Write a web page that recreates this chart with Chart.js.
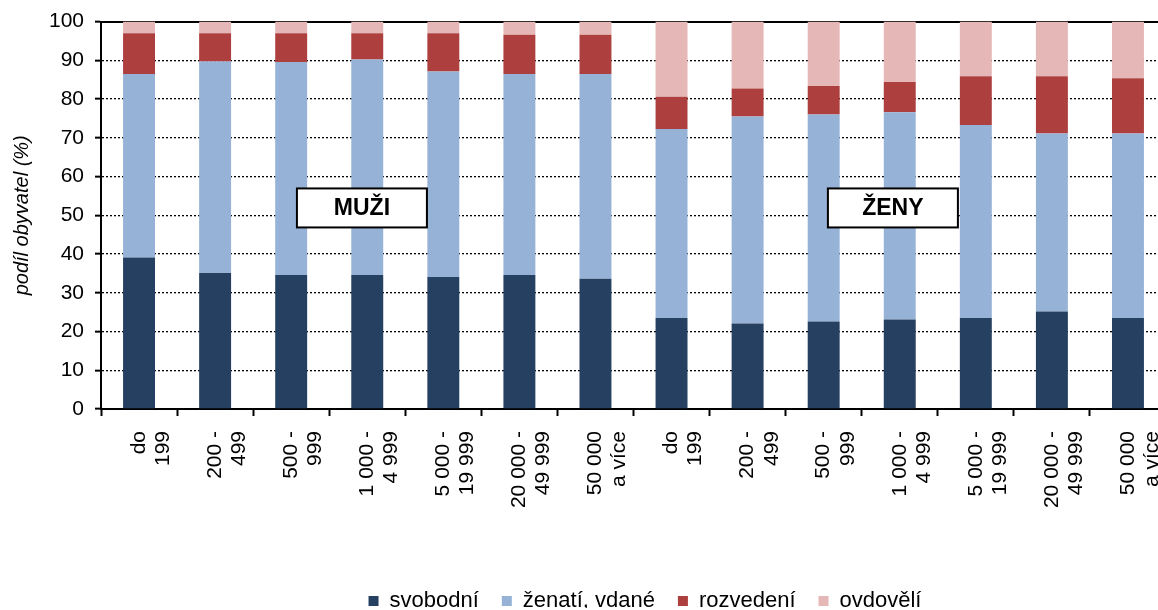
<!DOCTYPE html>
<html>
<head>
<meta charset="utf-8">
<script src="https://cdn.jsdelivr.net/npm/chart.js@4"></script>
<style>
  html, body { margin: 0; padding: 0; background: #fff; overflow: hidden; }
  #wrap { position: relative; width: 1290px; height: 610px; margin-top: -2px; }
</style>
</head>
<body>
<div id="wrap"><canvas id="c"></canvas></div>
<script>
// ---- data ----
const categories = [
  ["do", "199"], ["200 -", "499"], ["500 -", "999"], ["1 000 -", "4 999"],
  ["5 000 -", "19 999"], ["20 000 -", "49 999"], ["50 000", "a více"],
  ["do", "199"], ["200 -", "499"], ["500 -", "999"], ["1 000 -", "4 999"],
  ["5 000 -", "19 999"], ["20 000 -", "49 999"], ["50 000", "a více"]
];
const svobodni  = [39.1, 35.1, 34.6, 34.6, 34.1, 34.6, 33.6, 23.5, 22.1, 22.6, 23.1, 23.5, 25.2, 23.5];
const zenati    = [47.4, 54.6, 55.0, 55.6, 53.0, 51.9, 52.9, 48.8, 53.4, 53.4, 53.5, 49.8, 45.9, 47.6];
const rozvedeni = [10.5,  7.3,  7.4,  6.8,  9.9, 10.1, 10.1,  8.3,  7.2,  7.4,  7.8, 12.6, 14.8, 14.3];
const ovdoveli  = [ 3.0,  3.0,  3.0,  3.0,  3.0,  3.4,  3.4, 19.4, 17.3, 16.6, 15.6, 14.1, 14.1, 14.6];
const seriesNames = ["svobodní", "ženatí, vdané", "rozvedení", "ovdovělí"];
const groupLabels = ["MUŽI", "ŽENY"];
const groupAnchors = [2.93, 9.91];   // category index where each group label sits
const yTickStep = 10;

const FONT = "'Liberation Sans', Arial, sans-serif";

const boxPlugin = {
  id: 'groupBoxes',
  afterDatasetsDraw(chart) {
    const ctx = chart.ctx, xs = chart.scales.x, ys = chart.scales.y;
    ctx.save();
    groupLabels.forEach((t, i) => {
      const cx = xs.getPixelForValue(groupAnchors[i]);
      const cy = ys.getPixelForValue(51.9);
      const w = 130, h = 39;
      ctx.fillStyle = '#fff';
      ctx.fillRect(cx - w / 2, cy - h / 2, w, h);
      ctx.lineWidth = 2;
      ctx.strokeStyle = '#000';
      ctx.strokeRect(cx - w / 2, cy - h / 2, w, h);
      ctx.fillStyle = '#000';
      ctx.font = "bold 23px " + FONT;
      ctx.textAlign = 'center';
      ctx.textBaseline = 'middle';
      ctx.fillText(t, cx, cy + 1);
    });
    ctx.restore();
  }
};

const mk = (label, data, color) => ({
  label, data, backgroundColor: color, borderWidth: 0,
  barPercentage: 0.42, categoryPercentage: 1.0
});

new Chart(document.getElementById('c'), {
  type: 'bar',
  data: {
    labels: categories,
    datasets: [
      mk(seriesNames[0], svobodni, '#264061'),
      mk(seriesNames[1], zenati, '#96B3D7'),
      mk(seriesNames[2], rozvedeni, '#AD403F'),
      mk(seriesNames[3], ovdoveli, '#E6B7B7')
    ]
  },
  options: {
    responsive: true,
    maintainAspectRatio: false,
    animation: false,
    layout: { padding: { top: 18, right: 0, left: 0, bottom: -14 } },
    plugins: {
      tooltip: { enabled: false },
      legend: {
        position: 'bottom',
        labels: {
          boxWidth: 10, boxHeight: 10, padding: 23, color: '#000',
          font: { family: FONT, size: 22 }
        }
      }
    },
    scales: {
      x: {
        stacked: true,
        grid: { display: true, drawOnChartArea: false, drawTicks: true, offset: true,
                tickLength: 7, tickWidth: 2, tickColor: '#000', color: '#000' },
        border: { display: true, color: '#000', width: 2 },
        ticks: {
          autoSkip: false, minRotation: 90, maxRotation: 90, padding: 15, color: '#000',
          font: { family: FONT, size: 21, lineHeight: 1.15 }
        },
        afterFit(scale) { scale.height = 158; }
      },
      x2: {
        position: 'top',
        grid: { display: false, drawTicks: false },
        ticks: { display: false },
        border: { display: true, color: '#000', width: 2 }
      },
      y: {
        stacked: true, min: 0, max: 100,
        grid: { color: '#000', lineWidth: 1.3, drawTicks: true, tickLength: 6,
                tickWidth: 2, tickColor: '#000', tickBorderDash: [] },
        border: { display: true, color: '#000', width: 2, dash: [2, 2] },
        ticks: { stepSize: yTickStep, padding: 11, color: '#000',
                 font: { family: FONT, size: 21 } },
        title: { display: true, text: 'podíl obyvatel (%)', color: '#000',
                 padding: { top: 10, bottom: 0 },
                 font: { family: FONT, size: 20, style: 'italic' } },
        afterFit(scale) { scale.width = 101; }
      },
      yRight: {
        position: 'right', min: 0, max: 100,
        grid: { display: false, drawTicks: false },
        ticks: { display: false },
        border: { display: false },
        afterFit(scale) { scale.width = 124; }
      }
    }
  },
  plugins: [boxPlugin]
});
</script>
</body>
</html>
